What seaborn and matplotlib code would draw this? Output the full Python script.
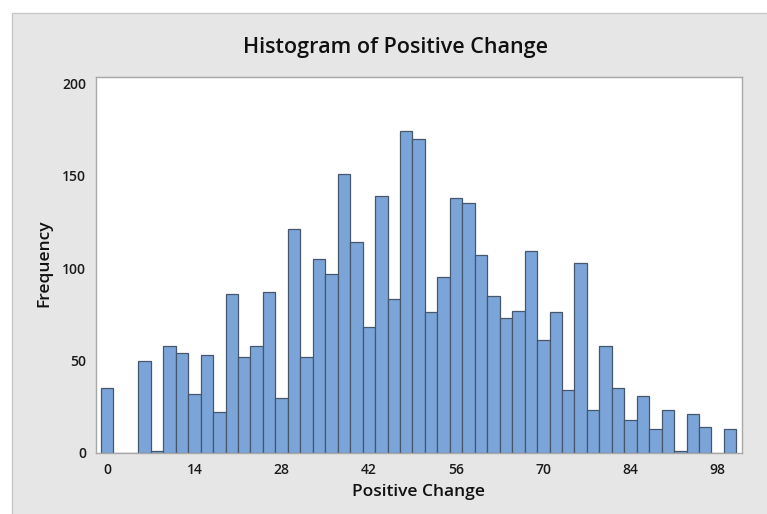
import matplotlib
matplotlib.use("Agg")
import matplotlib.pyplot as plt
import seaborn as sns
import numpy as np
from matplotlib.patches import Rectangle

# ---- data ----
bin_centers = list(range(0, 101, 2))
counts = [35, 0, 0, 50, 1, 58, 54, 32, 53, 22,
          86, 52, 58, 87, 30, 121, 52, 105, 97, 151,
          114, 68, 139, 83, 174, 170, 76, 95, 138, 135,
          107, 85, 73, 77, 109, 61, 76, 34, 103, 23,
          58, 35, 18, 31, 13, 23, 1, 21, 14, 0, 13]
bin_edges = [c - 1 for c in bin_centers] + [bin_centers[-1] + 1]
x_ticks = [0, 14, 28, 42, 56, 70, 84, 98]
y_ticks = [0, 50, 100, 150, 200]

title = "Histogram of Positive Change"
xlabel = "Positive Change"
ylabel = "Frequency"

sns.set_style("white")
plt.rcParams['font.family'] = ['Open Sans', 'DejaVu Sans']

W, H = 767, 514
fig = plt.figure(figsize=(W / 100, H / 100), dpi=100)
fig.patch.set_facecolor("white")

# gray panel
panel = Rectangle((12 / W, -0.01), 1.01 - 12 / W, 1.01 - 13 / H, transform=fig.transFigure,
                  facecolor="#e6e6e6", edgecolor="#c8c8c8", linewidth=1, zorder=-5)
fig.patches.append(panel)

ax = fig.add_axes([96 / W, 1 - 453 / H, (742 - 96) / W, (453 - 77) / H])
ax.set_zorder(2)
ax.set_facecolor("white")

sns.histplot(x=bin_centers, weights=counts, bins=bin_edges, ax=ax,
             color="#7ba5d9", edgecolor="#46566b", linewidth=0.9, alpha=1)

ax.set_xlim(-1.8, 101.9)
ax.set_ylim(0, 203.3)
ax.set_xticks(x_ticks)
ax.set_yticks(y_ticks)
ax.tick_params(axis="both", which="both", direction="out", length=4, width=0.8,
               color="#a0a0a0", labelsize=10, labelcolor="#1a1a1a", pad=3)
for lab in ax.get_xticklabels() + ax.get_yticklabels():
    lab.set_fontweight("semibold")
for s in ax.spines.values():
    s.set_color("#a8a8a8")
    s.set_linewidth(1.0)

ax.set_xlabel("")
ax.set_ylabel("")
fig.text(419 / W, 1 - 492 / H, xlabel, ha="center", va="center",
         fontsize=12.5, fontweight="semibold", color="#111111")
fig.text(44 / W, 1 - 263 / H, ylabel, ha="center", va="center", rotation=90,
         fontsize=12.5, fontweight="semibold", color="#111111")
fig.text(395 / W, 1 - 47 / H, title, ha="center", va="center",
         fontsize=15.5, fontweight="semibold", color="#111111")

fig.savefig("out.png", dpi=100, facecolor=fig.get_facecolor())
